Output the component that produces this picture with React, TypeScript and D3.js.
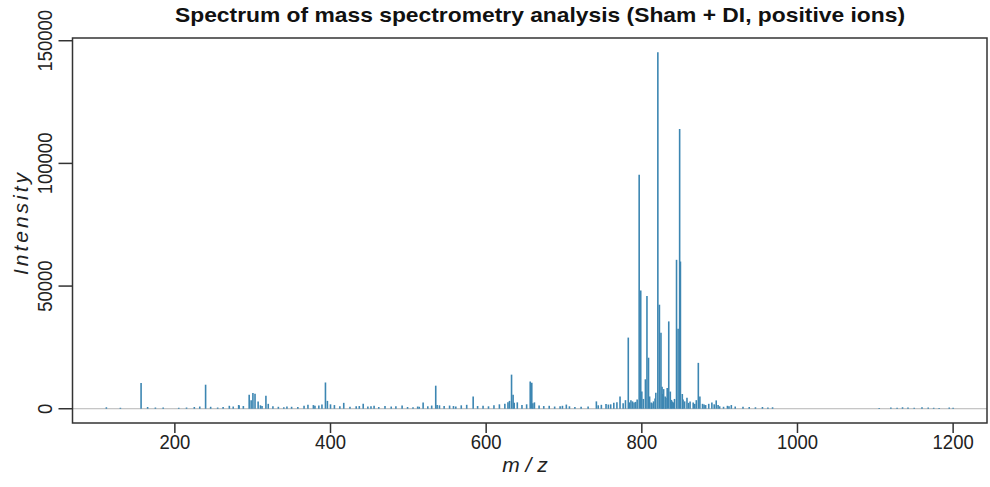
import React from "react";
import * as d3 from "d3";

// Peak list: m/z positions and matching intensities (counts)
const mzValues: number[] = [
  112, 130, 156.6, 165, 175, 185, 205, 215, 225, 232, 239.5, 246, 255, 262, 270, 275, 282, 288,
  295.5, 298, 300.3, 303, 307, 317, 320, 326, 333, 340, 350, 358, 366, 371, 378, 385, 393.5, 396,
  400, 405, 412, 417, 425, 433, 442, 448, 456, 462, 470, 478, 484, 492, 499, 506, 512, 519, 525,
  530, 535.2, 540, 546, 553, 561, 568, 575, 583.3, 589, 596, 603, 610, 617, 624, 628, 632.6,
  634.6, 640, 646, 652, 656.6, 658.6, 662, 668, 674, 681, 688, 695, 703, 707, 714, 722, 731,
  741.6, 748, 754, 760, 764, 768, 772, 776, 779, 782.6, 786, 790, 794, 796.6, 798.6, 800, 802,
  804.6, 806.6, 808.6, 810, 812, 815, 818, 820.6, 822.6, 824.6, 826, 828, 830, 832.6, 834.6,
  836.6, 839, 842, 844.6, 846.6, 848.6, 849.6, 852, 855, 858, 862, 866, 870, 872.6, 874.6, 878,
  882, 886, 890, 895.6, 900, 905, 910, 915, 920, 930, 938, 946, 955, 962, 968, 1105, 1120, 1128,
  1135, 1142, 1150, 1160, 1168, 1175, 1182, 1195, 1200,
  // low-level signal between the main peaks
  282.5, 310, 312, 344, 380, 389, 437, 452, 514, 537, 558, 630, 636, 660, 698, 744, 757, 784,
  788, 792, 813, 817, 827, 831, 838, 841, 853, 860, 868, 880, 893, 898, 912,
];

const intensityValues: number[] = [
  600, 400, 10500, 700, 500, 500, 400, 500, 700, 900, 9800, 800, 500, 700, 1200, 900, 1500, 1100,
  5700, 3500, 6400, 6100, 3000, 5300, 2000, 1000, 800, 600, 800, 700, 1200, 1600, 1500, 1300, 10700, 3200,
  1800, 1500, 1000, 2400, 800, 1000, 2000, 900, 1200, 700, 1100, 900, 1000, 1300, 700, 600, 900, 2500, 1000,
  1300, 9400, 1400, 1100, 1300, 900, 1400, 1600, 5000, 1100, 1200, 1000, 1400, 1800, 2000, 2600, 13900,
  5700, 2600, 1500, 1800, 11100, 10600, 2600, 1300, 1100, 1200, 900, 1000, 1700, 1000, 700, 800, 900,
  3000, 1600, 1900, 1800, 2400, 2600, 5000, 2200, 3500, 29000, 3500, 2500, 3800, 95400, 48200, 7000, 4000,
  12000, 46000, 20800, 5000, 2500, 3000, 6500, 145300, 42400, 31000, 9000, 8000, 5000, 8500, 35600,
  7000, 3000, 4000, 60700, 32600, 114000, 60000, 6000, 3000, 4500, 3000, 2500, 3500, 18700, 5000, 2000,
  1500, 2000, 2500, 3400, 1000, 800, 1200, 1500, 900, 800, 700, 600, 700, 500, 600, 300, 500, 400,
  600, 500, 400, 600, 500, 400, 300, 500, 400,
  1300, 1400, 1100, 900, 1200, 1700, 1100, 1000, 800, 1500, 1100, 3200, 2400, 2200, 1200, 1400, 1700, 2600,
  3000, 2800, 2200, 4200, 6000, 4500, 3600, 2600, 3800, 2400, 2000, 1700, 1800, 1500, 1000,
];

const xTicks: number[] = [200, 400, 600, 800, 1000, 1200];
const yTicks: number[] = [0, 50000, 100000, 150000];

const W = 990;
const H = 487;
const box = { left: 72.5, right: 987, top: 38, bottom: 423 };

// Pad both ranges by 4% on each side (the usual plotting default)
function padded(ext: [number, number]): [number, number] {
  const d = (ext[1] - ext[0]) * 0.04;
  return [ext[0] - d, ext[1] + d];
}

export default function App() {
  const peaks = mzValues
    .map((mz, i) => ({ mz, v: intensityValues[i] }))
    .sort((a, b) => a.mz - b.mz);
  const x = d3
    .scaleLinear()
    .domain(padded(d3.extent(mzValues) as [number, number]))
    .range([box.left, box.right]);
  const y = d3
    .scaleLinear()
    .domain(padded([0, d3.max(intensityValues) as number]))
    .range([box.bottom, box.top]);

  const font = "'Liberation Sans', Arial, sans-serif";
  const tickLen = 10;
  const axisColor = "#333";

  return (
    <svg width={W} height={H} style={{ display: "block", position: "absolute", left: 0, top: 0 }}>
      <rect x={0} y={0} width={W} height={H} fill="#fff" />
      <text
        x={540}
        y={22}
        textAnchor="middle"
        fontFamily={font}
        fontWeight="bold"
        fontSize={21}
        textLength={730}
        lengthAdjust="spacingAndGlyphs"
        fill="#111"
      >
        Spectrum of mass spectrometry analysis (Sham + DI, positive ions)
      </text>

      {/* zero baseline */}
      <line x1={box.left} x2={box.right} y1={y(0)} y2={y(0)} stroke="#b5b5b5" strokeWidth={1} />

      {/* spectrum peaks drawn as vertical sticks */}
      <g stroke="#3c86b2" strokeWidth={1.6}>
        {peaks.map((p, i) => (
          <line key={i} x1={x(p.mz)} x2={x(p.mz)} y1={y(0)} y2={y(p.v)} />
        ))}
      </g>

      {/* frame */}
      <rect
        x={box.left}
        y={box.top}
        width={box.right - box.left}
        height={box.bottom - box.top}
        fill="none"
        stroke={axisColor}
        strokeWidth={1.5}
      />

      {/* x axis */}
      <g fontFamily={font} fontSize={21} fill="#222">
        {xTicks.map((t) => (
          <g key={t} transform={`translate(${x(t)},0)`}>
            <line y1={box.bottom} y2={box.bottom + tickLen} stroke={axisColor} strokeWidth={1.5} />
            <text y={box.bottom + 26} textAnchor="middle" transform="scale(0.88,1)">
              {t}
            </text>
          </g>
        ))}
        <text x={525} y={472} textAnchor="middle" fontStyle="italic">
          m / z
        </text>
      </g>

      {/* y axis */}
      <g fontFamily={font} fontSize={21} fill="#222">
        {yTicks.map((t) => (
          <g key={t} transform={`translate(0,${y(t)})`}>
            <line x1={box.left - tickLen - 4} x2={box.left} stroke={axisColor} strokeWidth={1.5} />
            <text transform="translate(52,0) rotate(-90) scale(0.88,1)" textAnchor="middle">
              {t}
            </text>
          </g>
        ))}
        <text
          transform={`translate(28,${(box.top + box.bottom) / 2 - 8}) rotate(-90)`}
          textAnchor="middle"
          fontStyle="italic"
          letterSpacing={3}
        >
          Intensity
        </text>
      </g>
    </svg>
  );
}
